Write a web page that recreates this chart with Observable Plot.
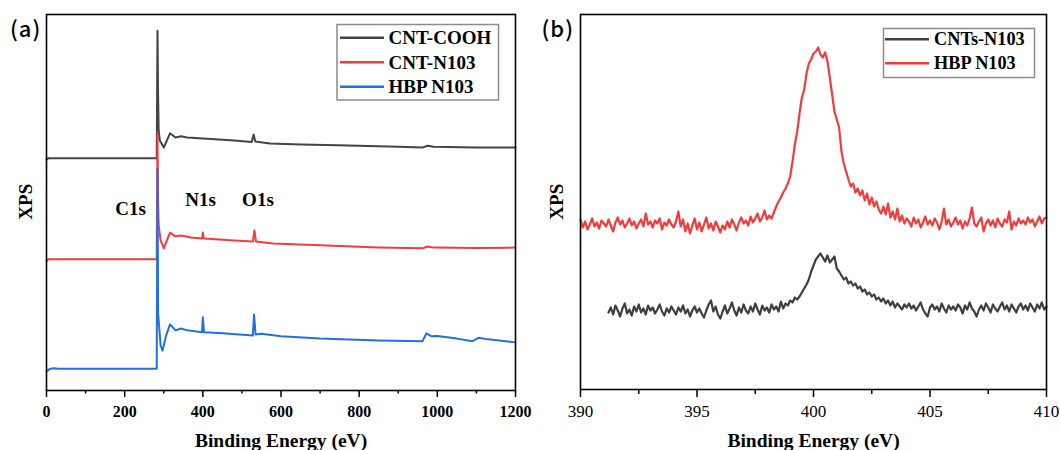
<!DOCTYPE html>
<html><head><meta charset="utf-8">
<script src="https://cdn.jsdelivr.net/npm/d3@7"></script>
<script src="https://cdn.jsdelivr.net/npm/@observablehq/plot@0.6"></script>
<style>
body{margin:0;background:#fff;}
#wrap{position:relative;width:1060px;height:450px;display:flex;}
#wrap svg.plot{display:block;font-family:'Liberation Serif',serif !important;}
#wrap svg.plot text{font-family:'Liberation Serif',serif;fill:#000;}
#wrap svg.leftplot text{font-weight:bold !important;}
#overlay{position:absolute;left:0;top:0;pointer-events:none;}
</style></head><body><div id="wrap"></div>
<script>
// ---------- Panel (a): XPS survey spectra (intensity in a.u., offset stacked) ----------
const cooEnergy = [0,5,282,284,285.5,287,290,300,316,330,344,360,400,480,525,530,534,572,650,746,900,962,975,990,1100,1200];
const cooIntensity = [61.4,61.8,61.8,95.7,78.5,69.1,66.5,64.6,68.4,67.3,67.6,67.3,67.0,66.5,66.1,68.1,66.2,65.7,65.4,65.2,64.8,64.6,65.1,64.8,64.6,64.6];

const cntEnergy = [0,5,282,284,285.5,287,292,300,316,330,344,370,398,400,403,480,528,532,536,580,700,850,962,975,990,1100,1200];
const cntIntensity = [34.4,34.9,34.9,68.7,50.5,43.9,39.9,37.8,42.0,41.0,41.2,40.7,40.4,42.0,40.4,39.9,39.6,42.6,39.6,39.1,38.6,38.0,37.8,38.3,38.0,37.9,38.0];

const hbpEnergy = [0,8,18,30,282,284,285.5,287,292,297,306,316,330,344,360,398,400,403,450,528,531,535,550,600,700,850,962,972,985,1000,1050,1090,1105,1130,1200];
const hbpIntensity = [5.1,5.7,5.9,5.8,5.8,59.0,20.5,18.6,12.0,10.6,14.6,17.6,16.0,16.5,16.0,15.5,19.5,15.5,15.2,14.6,20.2,14.9,15.1,14.4,13.8,13.3,13.1,15.2,14.4,14.5,13.8,13.1,14.0,13.6,12.8];

const surveyNames = ["CNT-COOH", "CNT-N103", "HBP N103"];
const surveyColors = ["#444444", "#f23c3c", "#1f6fe5"];
const surveyMajorTicks = [0, 200, 400, 600, 800, 1000, 1200];
const surveyMinorTicks = [100, 300, 500, 700, 900, 1100];
const peakLabels = ["C1s", "N1s", "O1s"];
const peakLabelEnergy = [215, 394, 541];
const peakLabelLevel = [48.4, 50.6, 50.6];

// ---------- Panel (b): N1s high-resolution spectra ----------
const energyN1s = [
390,390.1,390.2,390.3,390.4,390.5,390.6,390.7,390.8,390.9,
391,391.1,391.2,391.3,391.4,391.5,391.6,391.7,391.8,391.9,
392,392.1,392.2,392.3,392.4,392.5,392.6,392.7,392.8,392.9,
393,393.1,393.2,393.3,393.4,393.5,393.6,393.7,393.8,393.9,
394,394.1,394.2,394.3,394.4,394.5,394.6,394.7,394.8,394.9,
395,395.1,395.2,395.3,395.4,395.5,395.6,395.7,395.8,395.9,
396,396.1,396.2,396.3,396.4,396.5,396.6,396.7,396.8,396.9,
397,397.1,397.2,397.3,397.4,397.5,397.6,397.7,397.8,397.9,
398,398.1,398.2,398.3,398.4,398.5,398.6,398.7,398.8,398.9,
399,399.1,399.2,399.3,399.4,399.5,399.6,399.7,399.8,399.9,
400,400.1,400.2,400.3,400.4,400.5,400.6,400.7,400.8,400.9,
401,401.1,401.2,401.3,401.4,401.5,401.6,401.7,401.8,401.9,
402,402.1,402.2,402.3,402.4,402.5,402.6,402.7,402.8,402.9,
403,403.1,403.2,403.3,403.4,403.5,403.6,403.7,403.8,403.9,
404,404.1,404.2,404.3,404.4,404.5,404.6,404.7,404.8,404.9,
405,405.1,405.2,405.3,405.4,405.5,405.6,405.7,405.8,405.9,
406,406.1,406.2,406.3,406.4,406.5,406.6,406.7,406.8,406.9,
407,407.1,407.2,407.3,407.4,407.5,407.6,407.7,407.8,407.9,
408,408.1,408.2,408.3,408.4,408.5,408.6,408.7,408.8,408.9,
409,409.1,409.2,409.3,409.4,409.5,409.6,409.7,409.8,409.9,
410];

const hbpN1s = [
170,162,168,160,165,171,163,167,161,169,166,
163,170,164,158,167,172,165,169,162,166,
171,164,168,161,166,170,163,176,165,168,
162,169,166,171,160,167,164,170,165,162,
168,178,163,170,158,166,156,164,171,160,
167,158,165,172,161,166,159,168,163,157,
164,160,168,162,170,165,159,167,172,166,
169,164,173,167,171,176,168,172,179,170,
174,171,177,183,188,192,197,201,206,
213,228,245,258,276,292,300,316,326,330,
336,338,342,335,332,337,328,312,295,278,
270,262,238,226,218,210,203,206,197,201,
194,199,189,196,185,192,183,188,180,176,
183,175,186,172,178,170,181,168,174,166,
171,
168,163,172,166,170,162,167,173,165,169,
164,171,167,160,168,181,165,170,163,167,
172,165,169,161,168,164,171,182,166,163,
168,172,158,166,170,164,169,162,171,166,
163,170,167,178,160,168,164,171,166,169,
165,172,167,170,163,168,173,166,171,172];

const cntsN1s = [
null,null,null,null,null,null,null,null,null,null,null,null,
77,82,75,84,79,73,81,86,76,
80,74,83,78,85,77,81,75,84,79,
82,76,80,85,78,74,81,77,83,79,
75,82,78,84,76,80,73,79,83,77,
81,76,72,79,85,89,78,83,75,71,
78,84,76,81,87,79,74,82,77,85,
79,76,83,78,86,80,75,84,79,82,
77,85,80,83,78,88,81,86,84,89,
87,92,90,93,97,101,105,110,118,124,
130,133,136,132,128,134,127,130,133,121,
118,114,110,112,106,108,104,106,101,103,
98,100,95,97,93,95,90,92,88,91,
86,89,84,88,82,86,83,80,85,82,
86,81,84,79,83,87,80,76,73,82,
85,80,83,78,86,81,77,84,80,83,
79,85,82,76,84,80,87,81,78,73,
80,84,79,86,82,77,85,81,78,83,
87,80,84,78,85,81,77,83,86,80,
84,79,86,82,78,85,81,87,80,83];

const n1sNames = ["CNTs-N103", "HBP N103"];
const n1sColors = ["#3f3f3f", "#f03c3c"];
const n1sMajorTicks = [390, 395, 400, 405, 410];
const n1sMinorTicks = [392.5, 397.5, 402.5, 407.5];

const xTitle = "Binding Energy (eV)";
const yTitle = "XPS";
const panelTags = ["(a)", "(b)"];

// ---------- build tables ----------
const toRows = (E, I) => E.map((e, k) => ({e, i: I[k]}));
const cooRows = toRows(cooEnergy, cooIntensity);
const cntRows = toRows(cntEnergy, cntIntensity);
const hbpRows = toRows(hbpEnergy, hbpIntensity);
const hbpN1sRows = toRows(energyN1s, hbpN1s);
const cntsN1sRows = toRows(energyN1s, cntsN1s);
const peakRows = peakLabels.map((t, k) => ({t, e: peakLabelEnergy[k], i: peakLabelLevel[k]}));

const serif = "Liberation Serif";
const styleBase = {fontFamily: serif, background: "transparent", overflow: "visible", color: "#000"};

const left = Plot.plot({
  width: 530, height: 450,
  marginLeft: 46, marginRight: 15, marginTop: 14, marginBottom: 60,
  x: {domain: [0, 1200]},
  y: {domain: [0, 100], axis: null},
  style: styleBase,
  marks: [
    Plot.line(cooRows, {x: "e", y: "i", stroke: surveyColors[0], strokeWidth: 2}),
    Plot.line(cntRows, {x: "e", y: "i", stroke: surveyColors[1], strokeWidth: 2}),
    Plot.line(hbpRows, {x: "e", y: "i", stroke: surveyColors[2], strokeWidth: 2}),
    Plot.text(peakRows, {x: "e", y: "i", text: "t", fontFamily: serif, fontSize: 19, fontWeight: "bold", fill: "#000", lineAnchor: "middle"}),
    Plot.axisX({ticks: surveyMajorTicks, tickSize: 7, tickPadding: 8, tickFormat: d => String(d), fontFamily: serif, fontSize: 16, fontWeight: "bold", label: null, strokeWidth: 1.5}),
    Plot.axisX({ticks: surveyMinorTicks, tickSize: 3.5, tickFormat: () => "", label: null, strokeWidth: 1.5}),
    Plot.frame({stroke: "#000", strokeWidth: 1.6}),
    Plot.text([xTitle], {text: d => d, frameAnchor: "bottom", dy: 50, fontFamily: serif, fontSize: 19.5, fontWeight: "bold", lineAnchor: "middle", fill: "#000"})
  ]
});

const right = Plot.plot({
  width: 530, height: 450,
  marginLeft: 50, marginRight: 14, marginTop: 14, marginBottom: 61,
  x: {domain: [390, 410]},
  y: {domain: [0, 375], axis: null},
  style: styleBase,
  marks: [
    Plot.line(hbpN1sRows, {x: "e", y: "i", stroke: n1sColors[1], strokeWidth: 2.2}),
    Plot.line(cntsN1sRows, {x: "e", y: "i", stroke: n1sColors[0], strokeWidth: 2.2}),
    Plot.axisX({ticks: n1sMajorTicks, tickSize: 8, tickPadding: 7, tickFormat: d => String(d), fontFamily: serif, fontSize: 17, label: null, strokeWidth: 1.5}),
    Plot.axisX({ticks: n1sMinorTicks, tickSize: 5, tickFormat: () => "", label: null, strokeWidth: 1.5}),
    Plot.frame({stroke: "#000", strokeWidth: 1.6}),
    Plot.text([xTitle], {text: d => d, frameAnchor: "bottom", dy: 51, fontFamily: serif, fontSize: 19.5, fontWeight: "bold", lineAnchor: "middle", fill: "#000"})
  ]
});

left.classList.add("plot", "leftplot"); right.classList.add("plot", "rightplot");
const wrap = document.getElementById("wrap");
wrap.appendChild(left); wrap.appendChild(right);

// ---------- overlay: legends, y titles, panel tags ----------
const ov = d3.select(wrap).append("svg").attr("id", "overlay").attr("width", 1060).attr("height", 450)
  .style("font-family", serif);

function legend(x0, y0, w, h, lineX0, lineX1, textX, rowY, names, colors, fs) {
  ov.append("rect").attr("x", x0).attr("y", y0).attr("width", w).attr("height", h)
    .attr("fill", "#fff").attr("stroke", "#8c8c8c").attr("stroke-width", 1.5);
  names.forEach((n, k) => {
    const cy = rowY[k];
    ov.append("line").attr("x1", lineX0).attr("x2", lineX1).attr("y1", cy).attr("y2", cy)
      .attr("stroke", colors[k]).attr("stroke-width", 2.5);
    ov.append("text").attr("x", textX).attr("y", cy + 0.33 * fs).attr("font-size", fs)
      .attr("font-family", serif).attr("font-weight", "bold").attr("fill", "#000").text(n);
  });
}
legend(337, 24.5, 161.5, 75.5, 340, 384, 388.5, [37.7, 62.3, 86.7], surveyNames, surveyColors, 19);
legend(883.5, 28.5, 151, 49, 885, 929, 934, [39.3, 63.3], n1sNames, n1sColors, 18.3);

[[31.5, 201.7], [563, 201.7]].forEach(([x, y]) => {
  ov.append("text").attr("transform", `translate(${x},${y}) rotate(-90)`).attr("text-anchor", "middle")
    .attr("font-family", serif).attr("font-size", 19).attr("font-weight", "bold").attr("fill", "#000").text(yTitle);
});
[[10, 37], [541.5, 37]].forEach(([x, y], k) => {
  ov.append("text").attr("x", x).attr("y", y).attr("font-family", "Noto Sans CJK SC")
    .attr("font-size", 22).attr("font-weight", 500).attr("letter-spacing", 1).attr("fill", "#000").text(panelTags[k]);
});
</script></body></html>
